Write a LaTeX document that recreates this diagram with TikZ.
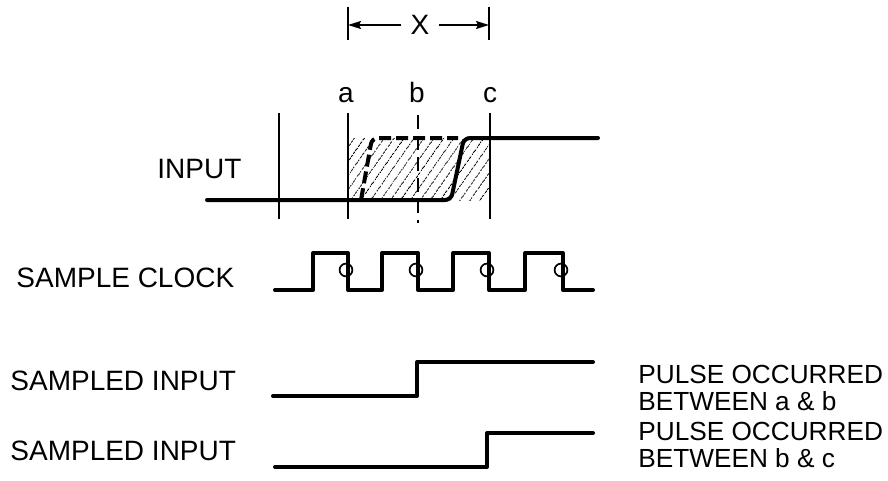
\documentclass[tikz,border=0pt]{standalone}
\usepackage{fontspec}
\setmainfont{Liberation Sans}
\usetikzlibrary{arrows.meta,patterns.meta}

\begin{document}
\begin{tikzpicture}[x=0.5pt, y=-0.5pt,
  wave/.style={black, line width=2pt, line cap=round, line join=round},
  guide/.style={black, line width=0.85pt},
  lbl/.style={font=\fontsize{14}{14}\selectfont, inner sep=0pt},
  note/.style={font=\fontsize{13.1}{13.5}\selectfont, inner sep=0pt, anchor=north west, align=left},
  dimarrow/.style={line width=0.85pt, -{Stealth[length=6.5pt,width=4pt,inset=1pt]}}]
\useasboundingbox (0,0) rectangle (888,481);
% window X between a and c
\foreach \x in {348,489}{ \draw[guide] (\x,7) -- (\x,40); }
\node[lbl, inner xsep=4.5pt] (xlbl) at (420,25) {X};
\coordinate (xl) at (348,25);
\coordinate (xr) at (489,25);
\draw[dimarrow] (xlbl) -- (xl);
\draw[dimarrow] (xlbl) -- (xr);
% sample instants
\foreach \x/\t in {346/a,417/b,490/c}{ \node[lbl, anchor=base] (s\t) at (\x,103) {\t}; }
% uncertainty region (hatched)
\fill[pattern={Lines[angle=55,distance=4pt,line width=0.45pt]}] (348,138) rectangle (490,200);
% guide lines
\foreach \x in {279,348,490}{ \draw[guide] (\x,113) -- (\x,219); }
\draw[guide, dash pattern=on 7pt off 3.5pt] (418,115) -- (418,223);
% input
\node[lbl, anchor=base west] (input) at (157,178) {INPUT};
\draw[wave, rounded corners=3pt] (207,200) -- (451,200) -- (464,138) -- (598,138);
\draw[wave, line cap=butt, dash pattern=on 6pt off 2.5pt, rounded corners=3pt] (361,200) -- (372,138) -- (458,138);
% sample clock
\node[lbl, anchor=base west] (clock) at (16,287) {SAMPLE CLOCK};
\draw[wave] (275,290) -- (313,290) -- (313,253) -- (348,253) -- (348,290)
  -- (382,290) -- (382,253) -- (418,253) -- (418,290)
  -- (453,290) -- (453,253) -- (489,253) -- (489,290)
  -- (525,290) -- (525,253) -- (563,253) -- (563,290) -- (593,290);
\foreach \x in {346,416,487,561}{ \draw[guide] (\x,270) circle (3.2pt); }
% sampled inputs
\node[lbl, anchor=base west] (samp1) at (10,390) {SAMPLED INPUT};
\draw[wave] (273,396) -- (417,396) -- (417,362) -- (593,362);
\node[note] (res1) at (638,365) {PULSE OCCURRED\\BETWEEN a \& b};
\node[lbl, anchor=base west] (samp2) at (10,460) {SAMPLED INPUT};
\draw[wave] (275,467) -- (487,467) -- (487,433) -- (593,433);
\node[note] (res2) at (638,422) {PULSE OCCURRED\\BETWEEN b \& c};
\end{tikzpicture}
\end{document}
